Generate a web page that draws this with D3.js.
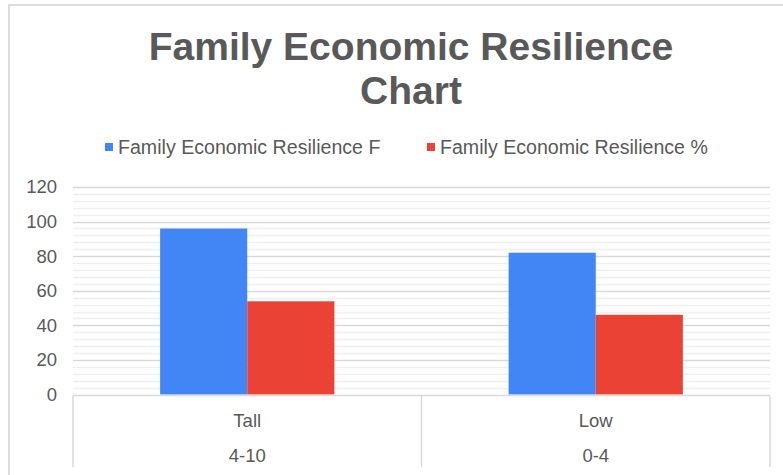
<!DOCTYPE html>
<html>
<head>
<meta charset="utf-8">
<script src="https://cdn.jsdelivr.net/npm/d3@7"></script>
<style>
body { margin: 0; background: #fff; }
text { font-family: "Liberation Sans", Arial, sans-serif; }
</style>
</head>
<body>
<svg id="chart" width="783" height="475"></svg>
<script>
// chart data
var categories = ["Tall", "Low"];
var subLabels = ["4-10", "0-4"];
var seriesNames = ["Family Economic Resilience F", "Family Economic Resilience %"];
var seriesColors = ["#4285f4", "#ea4335"];
var valuesF = [96, 82];
var valuesPct = [53.9, 46.1];
var yTicks = [0, 20, 40, 60, 80, 100, 120];

var svg = d3.select("#chart");

// outer frame (top and left edge only visible)
svg.append("line").style("stroke", "#dcdcdc").style("stroke-width", 2)
  .attr("x1", 8).attr("y1", 5).attr("x2", 783).attr("y2", 5);
svg.append("line").style("stroke", "#dcdcdc").style("stroke-width", 2)
  .attr("x1", 9).attr("y1", 5).attr("x2", 9).attr("y2", 475);

// title
svg.append("text")
  .text("Family Economic Resilience")
  .attr("x", 411).attr("y", 60)
  .attr("text-anchor", "middle")
  .attr("font-size", 39).attr("font-weight", "bold")
  .attr("fill", "#595959");
svg.append("text")
  .text("Chart")
  .attr("x", 411).attr("y", 104)
  .attr("text-anchor", "middle")
  .attr("font-size", 39).attr("font-weight", "bold")
  .attr("fill", "#595959");

// legend
var legendX = [105, 427];
seriesNames.forEach(function (name, i) {
  svg.append("rect")
    .attr("x", legendX[i]).attr("y", 143)
    .attr("width", 8).attr("height", 8)
    .attr("fill", seriesColors[i]);
  svg.append("text")
    .text(name)
    .attr("x", legendX[i] + 13).attr("y", 153.5)
    .attr("font-size", 19.6)
    .attr("fill", "#595959");
});

// scales
var pLeft = 73, pRight = 770, pTop = 187, pBottom = 394.5;
var y = d3.scaleLinear().domain([0, 120]).range([pBottom, pTop]);
var x0 = d3.scaleBand().domain(categories).range([pLeft, pRight]).padding(0);
var x1 = d3.scaleBand().domain(seriesNames)
  .range([x0.bandwidth() * 0.25, x0.bandwidth() * 0.75]).padding(0);

// minor gridlines
var minor = d3.range(4, 120, 4).filter(function (v) { return v % 20 !== 0; });
svg.append("g").selectAll("line").data(minor).enter().append("line")
  .attr("x1", pLeft).attr("x2", pRight)
  .attr("y1", function (d) { return Math.round(y(d)) + 0.5; })
  .attr("y2", function (d) { return Math.round(y(d)) + 0.5; })
  .style("stroke", "#efefef").style("stroke-width", 1.5);

// major gridlines
svg.append("g").selectAll("line").data(yTicks.slice(1)).enter().append("line")
  .attr("x1", pLeft).attr("x2", pRight)
  .attr("y1", function (d) { return Math.round(y(d)) + 0.5; })
  .attr("y2", function (d) { return Math.round(y(d)) + 0.5; })
  .style("stroke", "#d9d9d9").style("stroke-width", 1.5);

// y axis labels
var yAxis = d3.axisLeft(y).tickValues(yTicks).tickSize(0).tickPadding(16);
var gy = svg.append("g").attr("transform", "translate(" + pLeft + ",0)").call(yAxis);
gy.select(".domain").remove();
gy.selectAll("text")
  .attr("font-size", 18.5)
  .attr("font-family", "Liberation Sans, Arial, sans-serif")
  .attr("fill", "#595959");

// bars
var allValues = [valuesF, valuesPct];
categories.forEach(function (cat, ci) {
  seriesNames.forEach(function (s, si) {
    var v = allValues[si][ci];
    svg.append("rect")
      .attr("x", x0(cat) + x1(s))
      .attr("y", y(v))
      .attr("width", x1.bandwidth())
      .attr("height", y(0) - y(v))
      .attr("fill", seriesColors[si]);
  });
});

// category axis boxes
svg.append("line").style("stroke", "#d9d9d9").style("stroke-width", 1.5)
  .attr("x1", pLeft).attr("y1", pBottom + 1).attr("x2", pRight).attr("y2", pBottom + 1);
var dividers = [pLeft, x0(categories[1]), pRight];
dividers.forEach(function (dx) {
  svg.append("line").style("stroke", "#d9d9d9").style("stroke-width", 1.5)
    .attr("x1", dx).attr("y1", pBottom + 1).attr("x2", dx).attr("y2", 467);
});

categories.forEach(function (cat, ci) {
  var cx = x0(cat) + x0.bandwidth() / 2;
  svg.append("text")
    .text(cat)
    .attr("x", cx).attr("y", 427)
    .attr("text-anchor", "middle")
    .attr("font-size", 18.5)
    .attr("fill", "#595959");
  svg.append("text")
    .text(subLabels[ci])
    .attr("x", cx).attr("y", 462)
    .attr("text-anchor", "middle")
    .attr("font-size", 18.5)
    .attr("fill", "#595959");
});
</script>
</body>
</html>
